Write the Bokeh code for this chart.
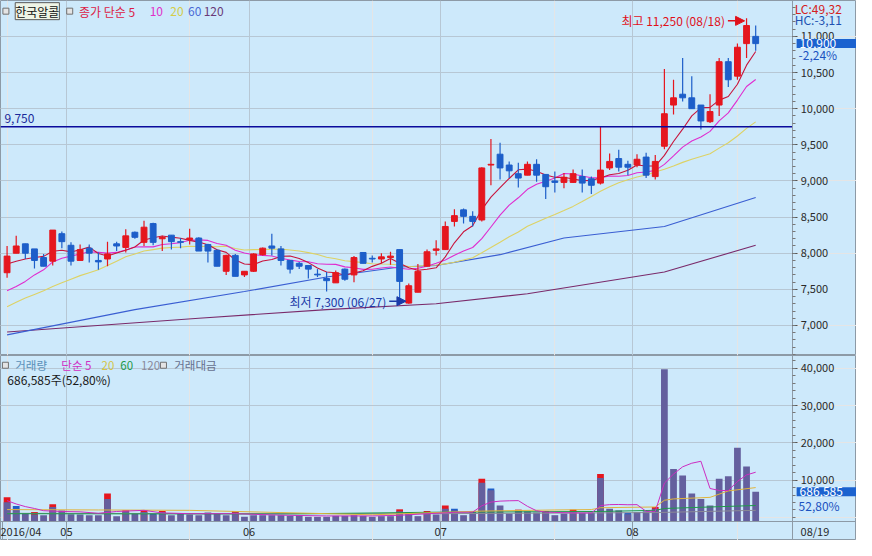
from bokeh.plotting import figure
from bokeh.models import (ColumnDataSource, Label, Arrow, NormalHead, FixedTicker,
                          NumeralTickFormatter, Range1d, Grid, LinearAxis)
from bokeh.layouts import column
from bokeh.embed import file_html
from bokeh.resources import INLINE

# ---------------- data ----------------
dates = [
    "2016-04-21", "2016-04-22", "2016-04-25", "2016-04-26", "2016-04-27", "2016-04-28", "2016-04-29",
    "2016-05-02", "2016-05-03", "2016-05-04", "2016-05-09", "2016-05-10", "2016-05-11", "2016-05-12",
    "2016-05-13", "2016-05-16", "2016-05-17", "2016-05-18", "2016-05-19", "2016-05-20", "2016-05-23",
    "2016-05-24", "2016-05-25", "2016-05-26", "2016-05-27", "2016-05-30", "2016-05-31",
    "2016-06-01", "2016-06-02", "2016-06-03", "2016-06-07", "2016-06-08", "2016-06-09", "2016-06-10",
    "2016-06-13", "2016-06-14", "2016-06-15", "2016-06-16", "2016-06-17", "2016-06-20", "2016-06-21",
    "2016-06-22", "2016-06-23", "2016-06-24", "2016-06-27", "2016-06-28", "2016-06-29", "2016-06-30",
    "2016-07-01", "2016-07-04", "2016-07-05", "2016-07-06", "2016-07-07", "2016-07-08", "2016-07-11",
    "2016-07-12", "2016-07-13", "2016-07-14", "2016-07-15", "2016-07-18", "2016-07-19", "2016-07-20",
    "2016-07-21", "2016-07-22", "2016-07-25", "2016-07-26", "2016-07-27", "2016-07-28", "2016-07-29",
    "2016-08-01", "2016-08-02", "2016-08-03", "2016-08-04", "2016-08-05", "2016-08-08", "2016-08-09",
    "2016-08-10", "2016-08-11", "2016-08-12", "2016-08-16", "2016-08-17", "2016-08-18", "2016-08-19",
]
opens = [7730, 8000, 8130, 8060, 7940, 7890, 8270, 8110, 7900, 8070,
         7900, 7920, 8130, 8080, 8290, 8150, 8410, 8200, 8250, 8160,
         8190, 8210, 8120, 8040, 7750, 7970, 7700, 7750, 7980, 8100,
         8060, 7900, 7860, 7830, 7710, 7650, 7590, 7780, 7700, 8010,
         7930, 7920, 7940, 8050, 7310, 7460, 7820, 8040, 8050, 8440,
         8600, 8510, 8460, 9220, 9370, 9220, 9100, 9080, 9230, 9090,
         9000, 8980, 8980, 9060, 9030, 8970, 9180, 9310, 9230, 9220,
         9330, 9060, 9480, 10050, 10200, 10150, 10050, 9820, 10050, 10650,
         10450, 10900, 11000]
highs = [8100, 8240, 8130, 8060, 7990, 8320, 8300, 8150, 8120, 8120,
         8010, 8160, 8160, 8330, 8300, 8450, 8420, 8240, 8250, 8210,
         8340, 8220, 8130, 8050, 7980, 7990, 7750, 8000, 8080, 8270,
         8100, 7900, 7880, 7830, 7780, 7740, 7760, 7790, 7960, 8010,
         7970, 8000, 8020, 8050, 7580, 7850, 8050, 8180, 8440, 8610,
         8620, 8580, 9190, 9580, 9530, 9270, 9250, 9270, 9300, 9090,
         9130, 9110, 9160, 9160, 9060, 9750, 9380, 9430, 9280, 9370,
         9390, 9360, 10550, 10400, 10700, 10450, 10050, 10200, 10700, 10700,
         10900, 11250, 11150]
lows = [7660, 8000, 7920, 7790, 7820, 7830, 8070, 7830, 7900, 7870,
        7770, 7820, 8030, 8010, 8200, 8100, 8110, 8030, 8050, 8070,
        8120, 8030, 7870, 7820, 7700, 7680, 7670, 7740, 7970, 7970,
        7830, 7720, 7780, 7650, 7670, 7470, 7590, 7620, 7600, 7860,
        7870, 7860, 7840, 7340, 7300, 7460, 7820, 7970, 8050, 8370,
        8410, 8370, 8440, 8940, 9020, 9040, 8910, 9080, 8990, 8750,
        8840, 8900, 8970, 8840, 8820, 8950, 9150, 9130, 9080, 9190,
        9040, 9020, 9440, 9920, 10100, 10000, 9710, 9800, 9900, 10300,
        10400, 10700, 10800]
closes = [7960, 8100, 8000, 7900, 7820, 8320, 8160, 7890, 8050, 8000,
          7880, 7990, 8100, 8240, 8220, 8360, 8150, 8220, 8160, 8150,
          8210, 8030, 8030, 7820, 7970, 7680, 7750, 7990, 8070, 8070,
          7900, 7780, 7820, 7780, 7700, 7620, 7730, 7640, 7940, 7860,
          7920, 7950, 7960, 7610, 7550, 7750, 8020, 8060, 8370, 8520,
          8510, 8440, 9180, 9230, 9180, 9140, 9040, 9230, 9080, 8920,
          8980, 9050, 9100, 8970, 8940, 9150, 9270, 9190, 9190, 9300,
          9080, 9270, 9930, 10150, 10150, 10000, 9830, 9960, 10650, 10400,
          10850, 11150, 10900]

ma5 = [7850, 7890, 7920, 7940, 7956, 8028, 8040, 8018, 8048, 8084,
       7996, 7962, 8004, 8042, 8086, 8182, 8214, 8238, 8222, 8208,
       8178, 8154, 8116, 8048, 8012, 7906, 7850, 7842, 7892, 7912,
       7956, 7962, 7928, 7870, 7796, 7740, 7730, 7694, 7726, 7758,
       7818, 7862, 7926, 7860, 7798, 7764, 7778, 7798, 7950, 8144,
       8296, 8380, 8604, 8776, 8908, 9034, 9154, 9164, 9134, 9082,
       9050, 9052, 9026, 9004, 9008, 9042, 9086, 9104, 9148, 9220,
       9206, 9206, 9354, 9546, 9716, 9900, 10012, 10018, 10118, 10168,
       10338, 10602, 10790]
ma10 = [7480, 7540, 7610, 7700, 7770, 7880, 7930, 7960, 7990,
        8020, 8012, 8001, 8011, 8045, 8085, 8089, 8088, 8121, 8132,
        8147, 8180, 8184, 8177, 8135, 8110, 8042, 8002, 7979, 7970,
        7962, 7931, 7906, 7885, 7881, 7854, 7848, 7846, 7811, 7798,
        7777, 7779, 7796, 7810, 7793, 7778, 7791, 7820, 7862, 7905,
        7971, 8030, 8079, 8201, 8363, 8526, 8665, 8767, 8884, 8955,
        8995, 9042, 9103, 9095, 9069, 9045, 9046, 9069, 9065, 9076,
        9114, 9124, 9146, 9229, 9347, 9468, 9553, 9609, 9686, 9832,
        9942, 10119, 10307, 10404]
ma20 = [7260, 7320, 7380, 7430, 7480, 7540, 7590, 7640, 7690, 7730,
        7770, 7830, 7890, 7950, 7990, 8030, 8050, 8070, 8080,
        8084, 8096, 8093, 8094, 8090, 8098, 8066, 8045, 8050, 8051,
        8055, 8056, 8045, 8031, 8008, 7982, 7945, 7924, 7895, 7884,
        7870, 7855, 7851, 7848, 7837, 7816, 7820, 7833, 7837, 7852,
        7874, 7905, 7938, 8006, 8078, 8152, 8228, 8294, 8373, 8430,
        8483, 8536, 8591, 8648, 8716, 8786, 8856, 8918, 8975, 9016,
        9055, 9083, 9125, 9162, 9208, 9257, 9300, 9339, 9376, 9454,
        9528, 9622, 9727, 9817]
ma60_idx = [0, 14, 26, 35, 43, 47, 54, 61, 72, 82]
ma60_val = [6870, 7220, 7470, 7670, 7810, 7830, 7980, 8210, 8370, 8770]
ma120_idx = [0, 21, 35, 47, 57, 72, 82]
ma120_val = [6910, 7100, 7220, 7300, 7440, 7740, 8110]

# volume, in hundreds of shares (axis units)
volumes = [4070, 2350, 1040, 780, 600, 2770, 1830, 860, 780, 600,
           600, 4960, 340, 1640, 1040, 1460, 780, 1460, 600, 940,
           780, 600, 1300, 1040, 600, 1300, 200, 600, 600, 600,
           600, 420, 600, 160, 150, 160, 420, 420, 600, 420,
           150, 340, 340, 1640, 1200, 340, 1460, 780, 2350, 1900,
           600, 1460, 9290, 7310, 3210, 1040, 1720, 1640, 1300, 1460,
           600, 1040, 1720, 1200, 1300, 10600, 2350, 1900, 860, 1460,
           1640, 2350, 39700, 12950, 11220, 6420, 4960, 3210, 10340, 11040,
           18690, 13650, 6866]
value_idx = [0, 1, 3, 5, 11, 13, 15, 16, 17, 25, 43, 44, 46, 48, 49, 52, 53, 56, 59, 62, 65, 68, 71]
value_amt = [5380, 3030, 1460, 3550, 6420, 1910, 1910, 1040, 1720, 1720, 2170, 1460, 1720,
             3210, 2350, 10340, 7730, 2090, 1720, 2090, 11640, 1200, 2770]
value_up = [1, 0, 1, 1, 1, 1, 1, 0, 1, 1, 1, 0, 1, 1, 0, 1, 0, 1, 1, 1, 1, 0, 1]
vma5_idx = [0, 1, 2, 3, 4, 6, 8, 10, 12, 15, 17, 20, 25, 30, 35, 40, 43, 44, 46, 48, 49, 51,
            52, 53, 54, 55, 56, 57, 58, 59, 60, 62, 64, 65, 66, 67, 68, 69, 70, 71,
            72, 73, 74, 75, 76, 77, 78, 79, 80, 81, 82]
vma5_val = [4500, 3600, 2900, 2400, 1800, 1600, 1500, 1100, 1600, 1900, 1200, 1000, 1000, 600,
            400, 400, 570, 720, 1000, 1230, 1370, 1420, 3120, 4110, 4370, 4460, 4510, 2980,
            1780, 1430, 1340, 1220, 1170, 3170, 3430, 3470, 3400, 3430, 1640, 1640,
            9200, 11620, 13570, 14530, 15050, 7750, 7230, 7190, 9650, 11390, 12120]
vma20_idx = [0, 10, 20, 30, 40, 47, 52, 60, 64, 65, 71, 72, 73, 77, 79, 82]
vma20_val = [2100, 2000, 1900, 1300, 700, 1300, 1700, 2000, 2100, 2600, 2800, 4600, 4960, 5380, 7100, 8000]
vma60_idx = [0, 30, 47, 65, 71, 72, 82]
vma60_val = [1000, 900, 1400, 1600, 1900, 2400, 3200]
vma120_idx = [0, 47, 71, 82]
vma120_val = [1100, 1000, 1300, 1900]

level_line = 9750
hi_text = "최고 11,250 (08/18)"
lo_text = "최저 7,300 (06/27)"
last_change = "-2,24%"
last_volume = 686585
vol_ratio = "52,80%"
lc_text = "LC:49,32"
hc_text = "HC:-3,11"
stock_name = "한국알콜"
month_labels = ["2016/04", "05", "06", "07", "08"]
price_ticks = [7000, 7500, 8000, 8500, 9000, 9500, 10000, 10500, 11000]
volume_ticks = [10000, 20000, 30000, 40000]

# ---------------- layout / style ----------------
FONT = "Noto Sans CJK KR"
BG = "#cde9fb"
GRID = "#b7c7d4"
EDGE = "#8d9aa6"
RED = "#e5161e"
BLUE = "#1d5ec9"
W, PH, VH = 856, 355, 185

n = len(dates)
idx = list(range(n))


def ix(px):          # reference pixel column -> bar index
    return (px - 6.7) / 9.3


def pp(py):          # reference pixel row -> price
    return 11000 - (py - 37) * 13.42


def pv(py):          # reference pixel row -> volume (hundreds)
    return (532.3 - py) * 261


XR = Range1d(ix(0), ix(872))
AXIS_X = ix(807)
bounds = [-0.5] + [i - 0.5 for i in range(1, n) if dates[i][5:7] != dates[i - 1][5:7]]


def lab(fig, x, y, text, color, size="12px", align="left", **kw):
    fig.add_layout(Label(x=x, y=y, text=text, text_color=color, text_font=FONT,
                         text_font_size=size, text_align=align, text_baseline="middle", **kw))


def base_fig(h, yr):
    return figure(frame_width=W, frame_height=h, x_range=XR, y_range=yr,
                  x_axis_location=None, y_axis_location=None,
                  output_backend="svg", toolbar_location=None,
                  min_border_left=0, min_border_right=0, min_border_top=0, min_border_bottom=0,
                  background_fill_color=BG, border_fill_color=BG,
                  outline_line_color=EDGE, outline_line_width=1)


def right_axis(f, ticks, minor):
    ax = LinearAxis(fixed_location=AXIS_X,
                    ticker=FixedTicker(ticks=ticks, minor_ticks=minor),
                    formatter=NumeralTickFormatter(format="0,0"))
    ax.major_label_text_font = FONT
    ax.major_label_text_font_size = "11px"
    ax.major_label_text_color = "#2a2a2a"
    ax.axis_line_color = EDGE
    ax.major_tick_line_color = "#555555"
    ax.minor_tick_line_color = "#777777"
    ax.major_tick_out = 5
    ax.major_tick_in = 0
    ax.minor_tick_out = 3
    ax.minor_tick_in = 0
    ax.major_label_standoff = 3
    f.add_layout(ax, "right")
    f.add_layout(Grid(dimension=1, ticker=FixedTicker(ticks=ticks), grid_line_color=GRID,
                      cross_bounds=(XR.start, AXIS_X)))


# ---------------- price panel ----------------
p = base_fig(PH, Range1d(pp(366), pp(0)))
right_axis(p, price_ticks, list(range(6600, 11500, 100)))
p.add_layout(Grid(dimension=0, ticker=FixedTicker(ticks=bounds[1:]), grid_line_color=GRID))

col = [RED if c >= o else BLUE for o, c in zip(opens, closes)]
src = ColumnDataSource(dict(x=idx, h=highs, l=lows,
                            top=[max(o, c) for o, c in zip(opens, closes)],
                            bot=[min(o, c) for o, c in zip(opens, closes)], col=col))

p.line(ma120_idx, ma120_val, line_color="#7a2a6a", line_width=1.1)
p.line(ma60_idx, ma60_val, line_color="#3a5ed2", line_width=1.1)
p.line(idx, ma20, line_color="#ddd264", line_width=1.1)
p.line(idx, ma10, line_color="#e02ccf", line_width=1.1)
p.line(idx, ma5, line_color="#c8143c", line_width=1.1)
p.segment(x0="x", y0="l", x1="x", y1="h", line_color="col", line_width=1.2, source=src)
p.vbar(x="x", top="top", bottom="bot", width=0.64, fill_color="col", line_color="col", source=src)

p.segment(x0=[XR.start], y0=[level_line], x1=[AXIS_X], y1=[level_line],
          line_color="#0b0b9c", line_width=1.3)
lab(p, ix(4), pp(122), f"{level_line:,}", "#1a2a9a")

# title / legend row
p.scatter([ix(5.5), ix(70.5)], [pp(11)] * 2, marker="square", size=6,
          fill_color="#e4e4e4", line_color="#707070")
lab(p, ix(15), pp(11), stock_name, "#111111", background_fill_color="#eef4e6",
    border_line_color="#5a5a5a")
lab(p, ix(80), pp(11), "종가 단순 5", "#dc1c46")
lab(p, ix(152), pp(11), "10", "#e030c8")
lab(p, ix(173), pp(11), "20", "#d4cc48")
lab(p, ix(191), pp(11), "60", "#4a6ad6")
lab(p, ix(207), pp(11), "120", "#6a3a78")

# high / low markers
lab(p, ix(738), pp(21), hi_text, "#e0101a", align="right")
p.add_layout(Arrow(end=NormalHead(size=9, fill_color="#e0101a", line_color="#e0101a"),
                   x_start=ix(741), y_start=pp(21), x_end=ix(758), y_end=pp(21),
                   line_color="#e0101a", line_width=1.5))
lab(p, ix(393), pp(310), lo_text, "#1a3aa8", align="right")
p.add_layout(Arrow(end=NormalHead(size=9, fill_color="#1a3aa8", line_color="#1a3aa8"),
                   x_start=ix(396), y_start=pp(310), x_end=ix(413), y_end=pp(310),
                   line_color="#1a3aa8", line_width=1.5))

# right-side readouts
lab(p, ix(809), pp(8), lc_text, "#d42020")
lab(p, ix(809), pp(20), hc_text, "#2050b0")
lab(p, ix(811), closes[-1], f"{closes[-1]:,}", "white",
    background_fill_color="#1b62cf", padding=dict(left=3, right=24, top=0, bottom=0))
lab(p, ix(813), pp(56), last_change, "#1b52c0")

# ---------------- volume panel ----------------
v = base_fig(VH, Range1d(pv(556), pv(366)))
right_axis(v, volume_ticks, list(range(0, 44000, 2000)))
v.add_layout(Grid(dimension=0, ticker=FixedTicker(ticks=bounds[1:]), grid_line_color=GRID,
                  cross_bounds=(pv(536), pv(366))))
vstart = pv(536)

xa = LinearAxis(fixed_location=vstart, ticker=FixedTicker(ticks=bounds))
xa.major_label_overrides = {b: t for b, t in zip(bounds, month_labels)}
xa.major_label_text_align = "left"
xa.major_label_text_font = FONT
xa.major_label_text_font_size = "11px"
xa.major_label_text_color = "#2a2a2a"
xa.axis_line_color = EDGE
xa.major_tick_line_color = EDGE
xa.major_tick_out = 19
xa.major_tick_in = 0
xa.minor_tick_line_color = None
xa.major_label_standoff = -17
v.add_layout(xa, "below")

v.vbar(x=value_idx, top=value_amt, bottom=vstart, width=0.74,
       fill_color=[RED if u else BLUE for u in value_up], line_color=None)
v.vbar(x=idx, top=volumes, bottom=vstart, width=0.74, fill_color="#645f9e", line_color=None)
v.line(vma120_idx, vma120_val, line_color="#8a8a96", line_width=1)
v.line(vma60_idx, vma60_val, line_color="#1e9a4a", line_width=1)
v.line(vma20_idx, vma20_val, line_color="#e0b43c", line_width=1)
v.line(vma5_idx, vma5_val, line_color="#cc2cc0", line_width=1)

LEG_Y = pv(376)
v.scatter([ix(5), ix(166)], [LEG_Y] * 2, marker="square", size=6,
          fill_color="#e4e4e4", line_color="#707070")
lab(v, ix(15), LEG_Y, "거래량", "#5a8fb8", size="11.5px")
lab(v, ix(62), LEG_Y, "단순 5", "#d030c4", size="11.5px")
lab(v, ix(103), LEG_Y, "20", "#d4c448", size="11.5px")
lab(v, ix(122), LEG_Y, "60", "#1e9a4a", size="11.5px")
lab(v, ix(143), LEG_Y, "120", "#8a8a9a", size="11.5px")
lab(v, ix(177), LEG_Y, "거래대금", "#66708e", size="11.5px")
lab(v, ix(7), pv(391), f"{last_volume:,}주({vol_ratio})", "#1a1a1a")

lab(v, ix(811), volumes[-1], f"{last_volume:,}", "white",
    background_fill_color="#1b62cf", padding=dict(left=3, right=16, top=0, bottom=0))
lab(v, ix(813), pv(520), vol_ratio, "#1b52c0")
lab(v, ix(815), pv(546), dates[-1][5:7] + "/" + dates[-1][8:10], "#2a2a2a", size="11px")

layout = column(p, v, spacing=0)
open("out.html", "w").write(file_html(layout, INLINE))
